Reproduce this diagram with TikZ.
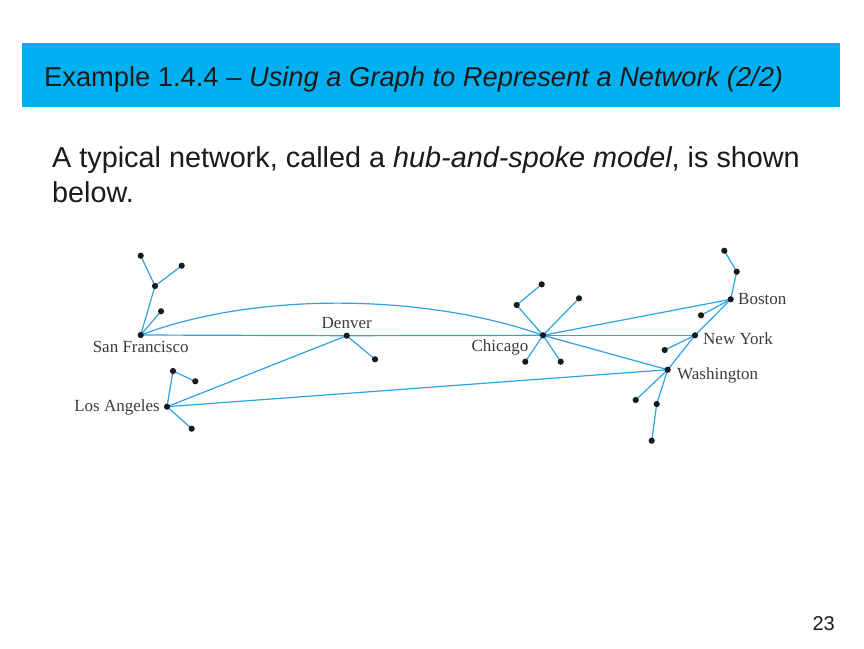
\documentclass[tikz,border=0pt]{standalone}
\usepackage{fontspec}
\setmainfont{Liberation Serif}
\newfontfamily\arialf{Liberation Sans}
\definecolor{banner}{HTML}{00B0F0}
\definecolor{edge}{HTML}{2EA3E3}
\definecolor{ink}{HTML}{1A1A1A}
\begin{document}
\begin{tikzpicture}[x=1pt,y=-1pt,
  lnk/.style={draw=edge,line width=1.2pt},
  city/.style={font=\fontsize{17}{19}\selectfont,inner sep=0pt,text=ink!85}]
\useasboundingbox (0,0) rectangle (864,648);
\fill[white] (0,0) rectangle (864,648);
\fill[banner] (22,43) rectangle (840,107);
\node[anchor=base west,inner sep=0pt,font=\arialf\fontsize{27.3}{30}\selectfont,text=ink] (title) at (44,86) {Example 1.4.4 – \textit{Using a Graph to Represent a Network (2/2)}};
\node[anchor=base west,inner sep=0pt,font=\arialf\fontsize{28.8}{30}\selectfont,text=ink] (body1) at (52,167.5) {A typical network, called a \textit{hub-and-spoke model}, is shown};
\node[anchor=base west,inner sep=0pt,font=\arialf\fontsize{28.8}{30}\selectfont,text=ink] (body2) at (52,202.7) {below.};
\node[anchor=base east,inner sep=0pt,font=\arialf\fontsize{20}{22}\selectfont,text=ink] (pg) at (835,630) {23};
% hubs
\coordinate (sf) at (140.7,335);
\coordinate (den) at (346.7,335.7);
\coordinate (la) at (167,406.7);
\coordinate (chi) at (543,335.3);
\coordinate (bos) at (730.7,299.3);
\coordinate (ny) at (695,335.3);
\coordinate (wash) at (667.7,369.7);
% spokes
\coordinate (sf1) at (155,286);
\coordinate (sf2) at (140.7,255.7);
\coordinate (sf3) at (181.7,265.7);
\coordinate (sf4) at (161,311.3);
\coordinate (den1) at (375,359.3);
\coordinate (la1) at (173,371);
\coordinate (la2) at (195.3,381.3);
\coordinate (la3) at (191.7,428.7);
\coordinate (chi1) at (516.7,305);
\coordinate (chi2) at (541.7,284.3);
\coordinate (chi3) at (579,298.3);
\coordinate (chi4) at (525.3,361.7);
\coordinate (chi5) at (560.7,361.7);
\coordinate (bos1) at (736.7,271.7);
\coordinate (bos2) at (724.3,250.7);
\coordinate (bos3) at (701,315.3);
\coordinate (ny1) at (664.7,350);
\coordinate (w1) at (635.7,400);
\coordinate (w2) at (656.7,404);
\coordinate (w3) at (651.7,440.7);
% labels
\node[city,anchor=base] (lsf) at (140.7,352.7) {San Francisco};
\node[city,anchor=base] (lden) at (346.7,328.3) {Denver};
\node[city,anchor=base east] (lchi) at (528.5,351) {Chicago};
\node[city,anchor=base west] (lbos) at (738,304.5) {Boston};
\node[city,anchor=base west] (lny) at (703,344) {New York};
\node[city,anchor=base west] (lwash) at (677,379) {Washington};
\node[city,anchor=base east] (lla) at (160,411.5) {Los Angeles};
% edges
\draw[lnk] (sf) -- (den) -- (chi);
\draw[lnk] (sf) .. controls (260,290) and (430,295) .. (chi);
\draw[lnk] (la) -- (den);
\draw[lnk] (la) -- (wash);
\draw[lnk] (chi) -- (bos);
\draw[lnk] (chi) -- (ny);
\draw[lnk] (chi) -- (wash);
\draw[lnk] (wash) -- (ny) -- (bos);
\draw[lnk] (sf) -- (sf1) -- (sf2);
\draw[lnk] (sf1) -- (sf3);
\draw[lnk] (sf) -- (sf4);
\draw[lnk] (den) -- (den1);
\draw[lnk] (la) -- (la1) -- (la2);
\draw[lnk] (la) -- (la3);
\draw[lnk] (chi) -- (chi1) -- (chi2);
\draw[lnk] (chi) -- (chi3);
\draw[lnk] (chi) -- (chi4);
\draw[lnk] (chi) -- (chi5);
\draw[lnk] (bos) -- (bos1) -- (bos2);
\draw[lnk] (bos) -- (bos3);
\draw[lnk] (ny) -- (ny1);
\draw[lnk] (wash) -- (w1);
\draw[lnk] (wash) -- (w2) -- (w3);
% dots
\foreach \n in {sf,den,la,chi,bos,ny,wash,sf1,sf2,sf3,sf4,den1,la1,la2,la3,chi1,chi2,chi3,chi4,chi5,bos1,bos2,bos3,ny1,w1,w2,w3}
  \fill[ink] (\n) circle (3.1pt);
\end{tikzpicture}
\end{document}
